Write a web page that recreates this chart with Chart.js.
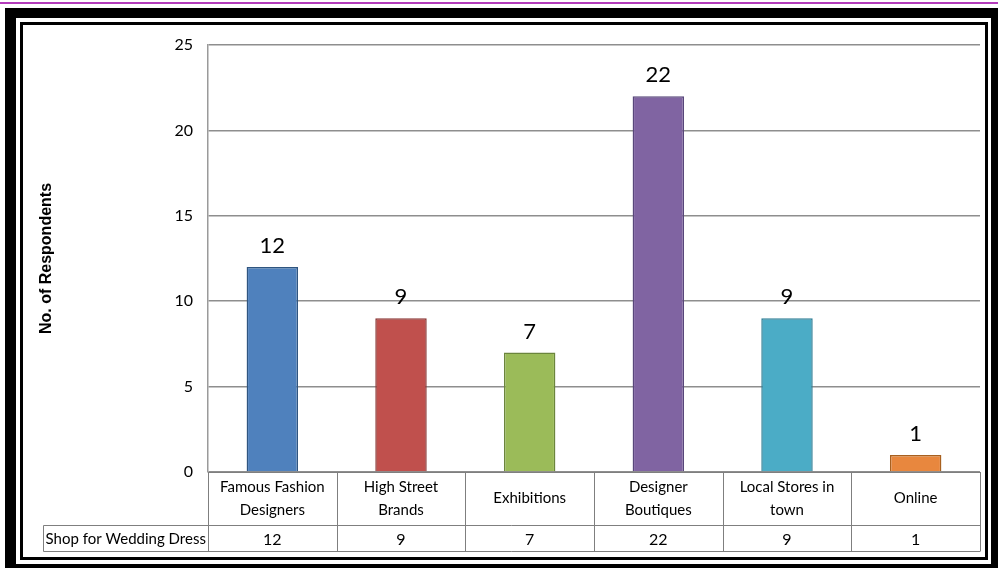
<!DOCTYPE html>
<html>
<head>
<meta charset="utf-8">
<script src="https://cdn.jsdelivr.net/npm/chart.js@4.4.1/dist/chart.umd.min.js"></script>
<style>
html,body{margin:0;padding:0;background:#fff;width:998px;height:568px;overflow:hidden;position:relative;}
#purple{position:absolute;left:0;top:2px;width:998px;height:2px;background:#b43cbc;}
#thick{position:absolute;left:5px;top:8px;width:993px;height:560px;background:#000;}
#gap{position:absolute;left:16px;top:18px;width:975px;height:546px;background:#fff;}
#thin{position:absolute;left:20px;top:22px;width:968px;height:538px;border:3px solid #000;box-sizing:border-box;background:#fff;}
#c{position:absolute;left:0;top:0;}
</style>
</head>
<body>
<div id="purple"></div>
<div id="thick"></div>
<div id="gap"></div>
<div id="thin"></div>
<canvas id="c" width="998" height="568"></canvas>
<script>
// ---- data ----
const categories = [["Famous Fashion","Designers"],["High Street","Brands"],"Exhibitions",["Designer","Boutiques"],["Local Stores in","town"],"Online"];
const seriesName = "Shop for Wedding Dress";
const values = [12, 9, 7, 22, 9, 1];
const yTickValues = [0, 5, 10, 15, 20, 25];
const yAxisTitle = "No. of Respondents";

// ---- styles ----
const barColors = ['#4F81BD','#C0504D','#9BBB59','#8064A2','#4BACC6','#E8873E'];
const barBorders = ['#2f5580','#8a3634','#6b853c','#58467a','#2f7f96','#a8601f'];
const FONT = 'Lato, "Open Sans", sans-serif';

const valueLabels = {
  id: 'valueLabels',
  afterDatasetsDraw(chart) {
    const ctx = chart.ctx;
    const meta = chart.getDatasetMeta(0);
    ctx.save();
    ctx.font = '22px ' + FONT;
    ctx.fillStyle = '#000';
    ctx.textAlign = 'center';
    ctx.textBaseline = 'middle';
    meta.data.forEach((bar, i) => {
      ctx.fillText(String(values[i]), bar.x, bar.y - 21);
    });
    ctx.restore();
  }
};

const dataTable = {
  id: 'dataTable',
  afterDraw(chart) {
    const ctx = chart.ctx;
    const ca = chart.chartArea;
    const xs = chart.scales.x;
    const n = values.length;
    const w = (ca.right - ca.left) / n;
    const headerTop = ca.bottom;
    const rowTop = 525.5, rowBottom = 551.5, tableLeft = 43.5;
    ctx.save();
    ctx.strokeStyle = '#7f7f7f';
    ctx.lineWidth = 1;
    ctx.beginPath();
    ctx.moveTo(ca.left, headerTop + 0.5); ctx.lineTo(ca.right, headerTop + 0.5);
    ctx.moveTo(tableLeft, rowTop); ctx.lineTo(ca.right, rowTop);
    ctx.moveTo(tableLeft, rowBottom); ctx.lineTo(ca.right, rowBottom);
    for (let i = 0; i <= n; i++) {
      const x = Math.round(ca.left + i * w) + 0.5;
      ctx.moveTo(x, headerTop); ctx.lineTo(x, rowBottom);
    }
    ctx.moveTo(tableLeft, rowTop); ctx.lineTo(tableLeft, rowBottom);
    ctx.stroke();
    ctx.fillStyle = '#000';
    ctx.font = '15px ' + FONT;
    ctx.textAlign = 'center';
    ctx.textBaseline = 'middle';
    const midY = (rowTop + rowBottom) / 2 + 1;
    ctx.fillText(seriesName, (tableLeft + ca.left) / 2, midY);
    ctx.font = '16px ' + FONT;
    values.forEach((v, i) => {
      ctx.fillText(String(v), xs.getPixelForValue(i), midY);
    });
    ctx.restore();
  }
};

new Chart(document.getElementById('c'), {
  type: 'bar',
  data: {
    labels: categories,
    datasets: [{
      label: seriesName,
      data: values,
      backgroundColor: barColors,
      borderColor: barBorders,
      borderWidth: 1.5,
      categoryPercentage: 1,
      barPercentage: 0.4
    }]
  },
  options: {
    responsive: false,
    animation: false,
    devicePixelRatio: 1,
    layout: { padding: { left: 0, right: 18, top: 45, bottom: 0 } },
    plugins: { legend: { display: false }, tooltip: { enabled: false } },
    scales: {
      x: {
        grid: { display: false },
        border: { display: false },
        ticks: {
          autoSkip: false, maxRotation: 0, minRotation: 0,
          crossAlign: 'center',
          padding: 7,
          color: '#000',
          font: { family: FONT, size: 15, lineHeight: 1.53 }
        },
        afterFit(scale) { scale.height = 96; }
      },
      y: {
        min: 0, max: 25,
        afterBuildTicks(scale) { scale.ticks = yTickValues.map(v => ({ value: v })); },
        grid: { color: '#8e8e8e', lineWidth: 1.5, drawTicks: false },
        border: { display: true, color: '#9a9a9a', width: 1.5 },
        ticks: { padding: 15, color: '#000', font: { family: FONT, size: 16 } },
        title: {
          display: true, text: yAxisTitle, color: '#000',
          font: { family: '"Liberation Sans", Arial, sans-serif', size: 16, weight: 'bold' },
          padding: { top: 37, bottom: 0 }
        },
        afterFit(scale) { scale.width = 208; }
      }
    }
  },
  plugins: [valueLabels, dataTable]
});
</script>
</body>
</html>
